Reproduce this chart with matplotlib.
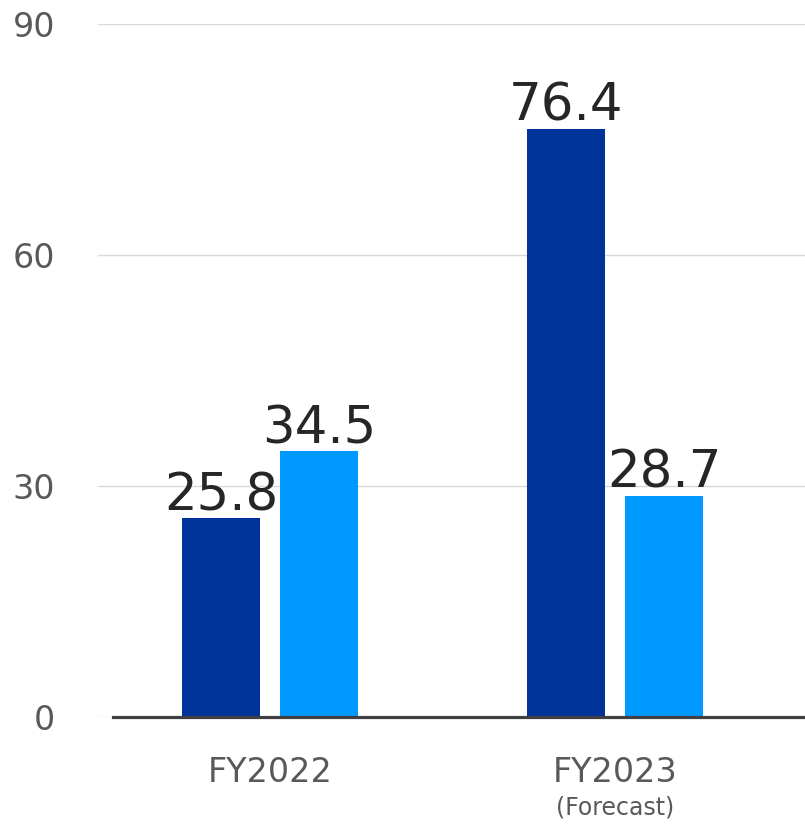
import matplotlib.pyplot as plt
import numpy as np

# data
categories = ["FY2022", "FY2023"]
sub_labels = ["", "(Forecast)"]
series_a = [25.8, 76.4]
series_b = [34.5, 28.7]
yticks = [0, 30, 60, 90]

DARK = "#003399"
LIGHT = "#0099ff"

fig = plt.figure(figsize=(8.05, 8.25), dpi=100)
ax = fig.add_axes([98 / 805, 1 - 717 / 825, 707 / 805, (717 - 24) / 825])

x = np.arange(len(categories))
width = 78 / 345
off = 49 / 345

bars_a = ax.bar(x - off, series_a, width, color=DARK, zorder=3)
bars_b = ax.bar(x + off, series_b, width, color=LIGHT, zorder=3)

for bars in (bars_a, bars_b):
    for b in bars:
        ax.annotate(f"{b.get_height():.1f}",
                    (b.get_x() + b.get_width() / 2, b.get_height()),
                    xytext=(0, 6), textcoords="offset points",
                    ha="center", va="baseline", fontsize=37, color="#262626")

ax.set_xlim(-172 / 345, (707 - 172) / 345)
ax.set_ylim(0, 90)
ax.set_yticks(yticks)
ax.tick_params(axis="y", length=0, pad=31, labelsize=24, labelcolor="#595959")
ax.set_xticks(x)
ax.set_xticklabels(categories)
ax.tick_params(axis="x", length=0, pad=28, labelsize=24, labelcolor="#595959")

ax.grid(axis="y", color="#d9d9d9", linewidth=1.0, zorder=0)
ax.axhline(0, xmin=15 / 707, xmax=1, color="#404040", linewidth=2.3,
           zorder=4, clip_on=False)
for s in ax.spines.values():
    s.set_visible(False)

for xi, sub in zip(x, sub_labels):
    if sub:
        ax.annotate(sub, (xi, 0), xycoords=("data", "axes fraction"),
                    xytext=(0, -65), textcoords="offset points",
                    ha="center", va="center", fontsize=17, color="#595959")

fig.savefig("out.png", dpi=100)
